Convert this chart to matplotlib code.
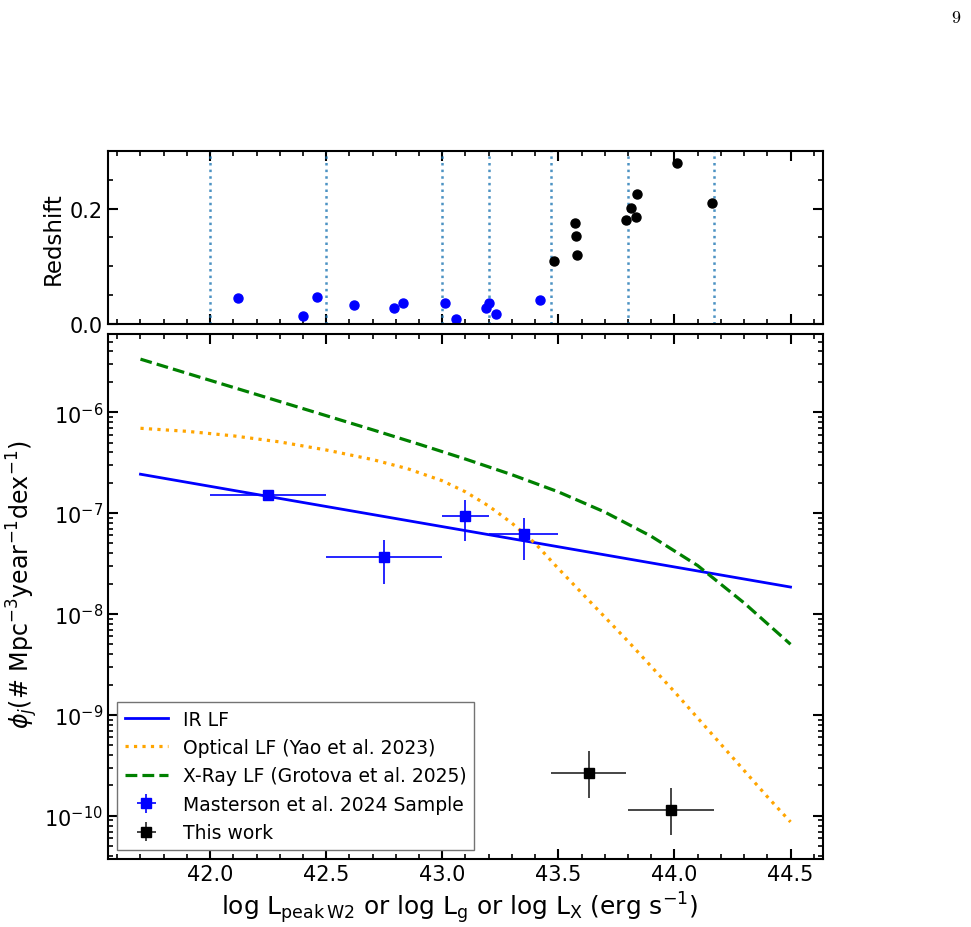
import numpy as np
import matplotlib
matplotlib.use('Agg')
import matplotlib.pyplot as plt
from matplotlib.ticker import MultipleLocator, LogLocator, NullFormatter

# redshift panel: Masterson et al. 2024 sample (blue) and this work (black)
lum_masterson = [42.12, 42.40, 42.46, 42.62, 42.79, 42.83, 43.01, 43.06, 43.19, 43.20, 43.23, 43.42]
z_masterson = [0.045, 0.013, 0.047, 0.033, 0.027, 0.036, 0.036, 0.009, 0.028, 0.037, 0.018, 0.041]
lum_thiswork = [43.48, 43.57, 43.575, 43.58, 43.79, 43.815, 43.835, 43.84, 44.01, 44.16]
z_thiswork = [0.109, 0.175, 0.153, 0.119, 0.180, 0.202, 0.186, 0.225, 0.280, 0.209]
bin_edges = [42.0, 42.5, 43.0, 43.2, 43.47, 43.8, 44.17]

# luminosity functions (log10 phi)
ir_x = [41.7, 42.4, 43.1, 43.8, 44.5]
ir_logphi = [-6.615, -6.895, -7.174, -7.454, -7.733]

opt_x = [41.7, 41.9, 42.1, 42.3, 42.5, 42.7, 42.85, 43.0, 43.1, 43.2, 43.3, 43.4,
         43.5, 43.6, 43.7, 43.8, 43.9, 44.0, 44.1, 44.2, 44.3, 44.4, 44.5]
opt_logphi = [-6.16, -6.19, -6.235, -6.295, -6.375, -6.47, -6.56, -6.68, -6.79, -6.93, -7.10, -7.30,
              -7.55, -7.79, -8.03, -8.27, -8.52, -8.77, -9.03, -9.29, -9.55, -9.81, -10.06]

xray_x = [41.7, 41.9, 42.1, 42.3, 42.5, 42.7, 42.9, 43.1, 43.3, 43.5, 43.7, 43.9, 44.1, 44.3, 44.5]
xray_logphi = [-5.475, -5.615, -5.755, -5.895, -6.035, -6.175, -6.318, -6.465, -6.62, -6.79,
               -6.99, -7.23, -7.52, -7.89, -8.30]

# binned rates with errors
m_x = [42.25, 42.75, 43.1, 43.35]
m_xerr = [0.25, 0.25, 0.1, 0.15]
m_phi = [1.51e-7, 3.66e-8, 9.4e-8, 6.2e-8]
m_lo = [1.51e-7, 1.98e-8, 5.25e-8, 3.39e-8]
m_hi = [1.51e-7, 5.37e-8, 1.36e-7, 8.9e-8]

t_x = [43.63, 43.985]
t_xerr = [0.16, 0.185]
t_phi = [2.67e-10, 1.14e-10]
t_lo = [1.51e-10, 6.45e-11]
t_hi = [4.43e-10, 1.89e-10]

fig = plt.figure(figsize=(9.71, 9.28), dpi=100)
ax1 = fig.add_axes([0.1112, 0.6498, 0.7364, 0.1864])
ax2 = fig.add_axes([0.1112, 0.0733, 0.7364, 0.5657])

# --- top panel
for e in bin_edges:
    ax1.axvline(e, color='tab:blue', ls=':', lw=1.8, alpha=0.8)
ax1.plot(lum_masterson, z_masterson, 'o', color='b', ms=6.5)
ax1.plot(lum_thiswork, z_thiswork, 'o', color='k', ms=6.5)
ax1.set_ylim(0, 0.3)
ax1.set_ylabel('Redshift', fontsize=16.5)
ax1.yaxis.set_major_locator(MultipleLocator(0.2))
ax1.yaxis.set_minor_locator(MultipleLocator(0.05))
ax1.tick_params(labelbottom=False)

# --- bottom panel
ax2.plot(ir_x, 10**np.array(ir_logphi), '-', color='b', lw=2, label='IR LF')
ax2.plot(opt_x, 10**np.array(opt_logphi), ':', color='orange', lw=2.3,
         label='Optical LF (Yao et al. 2023)')
ax2.plot(xray_x, 10**np.array(xray_logphi), '--', color='g', lw=2.3,
         label='X-Ray LF (Grotova et al. 2025)')
m_yerr = [np.array(m_phi) - np.array(m_lo), np.array(m_hi) - np.array(m_phi)]
ax2.errorbar(m_x, m_phi, xerr=m_xerr, yerr=m_yerr, fmt='s', color='b', ms=7,
             elinewidth=1.2, label='Masterson et al. 2024 Sample')
t_yerr = [np.array(t_phi) - np.array(t_lo), np.array(t_hi) - np.array(t_phi)]
ax2.errorbar(t_x, t_phi, xerr=t_xerr, yerr=t_yerr, fmt='s', color='k', ms=7,
             elinewidth=1.2, ecolor='0.15', label='This work')
ax2.set_yscale('log')
ax2.set_ylim(10**-10.427, 10**-5.226)
ax2.yaxis.set_major_locator(LogLocator(base=10, numticks=20))
ax2.yaxis.set_minor_locator(LogLocator(base=10, subs=np.arange(2, 10), numticks=20))
ax2.yaxis.set_minor_formatter(NullFormatter())
ax2.set_xlabel(r'log L$_{\rm peak\,W2}$ or log L$_{\rm g}$ or log L$_{\rm X}$ (erg s$^{-1}$)', fontsize=17.9)
ax2.xaxis.set_label_coords(0.492, -0.058)
ax2.set_ylabel(r'$\phi_j$(# Mpc$^{-3}$year$^{-1}$dex$^{-1}$)', fontsize=17.1)
ax2.yaxis.set_label_coords(-0.095, 0.524)
leg = ax2.legend(loc='lower left', fontsize=13.5, fancybox=False, handlelength=2.3,
                 framealpha=1)
leg.get_frame().set_edgecolor('0.45')

for ax in (ax1, ax2):
    ax.set_xlim(41.56, 44.64)
    ax.xaxis.set_major_locator(MultipleLocator(0.5))
    ax.xaxis.set_minor_locator(MultipleLocator(0.1))
    ax.tick_params(which='both', direction='in', top=True, right=True, labelsize=15)
    ax.tick_params(which='major', length=7, width=1.5)
    ax.tick_params(which='minor', length=3.5, width=1.2)
    for s in ax.spines.values():
        s.set_linewidth(1.5)

fig.text(0.99, 0.99, '$9$', fontsize=13, ha='right', va='top', math_fontfamily='cm')

fig.savefig('out.png', dpi=100)
